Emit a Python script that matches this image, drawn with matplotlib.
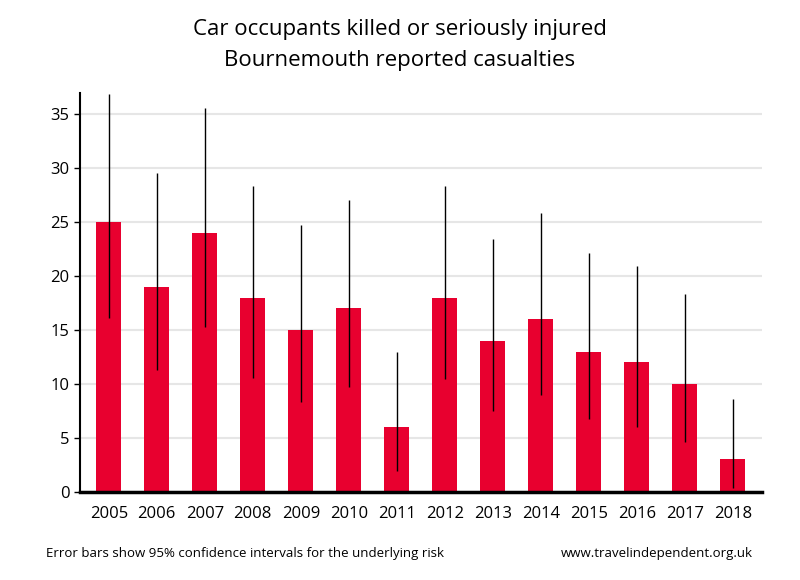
import matplotlib.pyplot as plt
import numpy as np

plt.rcParams['font.family'] = ['Open Sans', 'DejaVu Sans']

years = ["2005", "2006", "2007", "2008", "2009", "2010", "2011",
         "2012", "2013", "2014", "2015", "2016", "2017", "2018"]
casualties = [25, 19, 24, 18, 15, 17, 6, 18, 14, 16, 13, 12, 10, 3]
ci_low = [16.1, 11.3, 15.3, 10.6, 8.3, 9.7, 1.9, 10.5, 7.5, 9.0, 6.8, 6.0, 4.6, 0.4]
ci_high = [36.9, 29.6, 35.6, 28.4, 24.7, 27.1, 13.0, 28.4, 23.4, 25.9, 22.1, 20.9, 18.3, 8.6]

fig = plt.figure(figsize=(8, 5.8), dpi=100)
ax = fig.add_axes([0.1, 0.152, 0.852, 0.688])

x = np.arange(len(years))
ax.bar(x, casualties, width=0.52, color="#e8002f", zorder=2)
ax.vlines(x, ci_low, ci_high, color="black", linewidth=1, zorder=3)

ax.set_xlim(-0.6, len(years) - 0.4)
ax.set_ylim(0, 37)
ax.set_yticks([0, 5, 10, 15, 20, 25, 30, 35])
ax.set_xticks(x)
ax.set_xticklabels(years)
ax.yaxis.grid(True, color="#e6e6e6", linewidth=1.5, zorder=0)
ax.set_axisbelow(True)

for side in ["top", "right"]:
    ax.spines[side].set_visible(False)
ax.spines["left"].set_linewidth(1.5)
ax.spines["bottom"].set_linewidth(2.5)
ax.tick_params(axis="x", length=0, labelsize=12, pad=10)
ax.tick_params(axis="y", length=4, width=1, labelsize=12)

fig.text(0.5, 0.968, "Car occupants killed or seriously injured\nBournemouth reported casualties",
         ha="center", va="top", fontsize=16, linespacing=1.65)
fig.text(0.058, 0.046, "Error bars show 95% confidence intervals for the underlying risk",
         ha="left", va="center", fontsize=9.5)
fig.text(0.941, 0.046, "www.travelindependent.org.uk",
         ha="right", va="center", fontsize=9.5)

fig.savefig("out.png", dpi=100)
